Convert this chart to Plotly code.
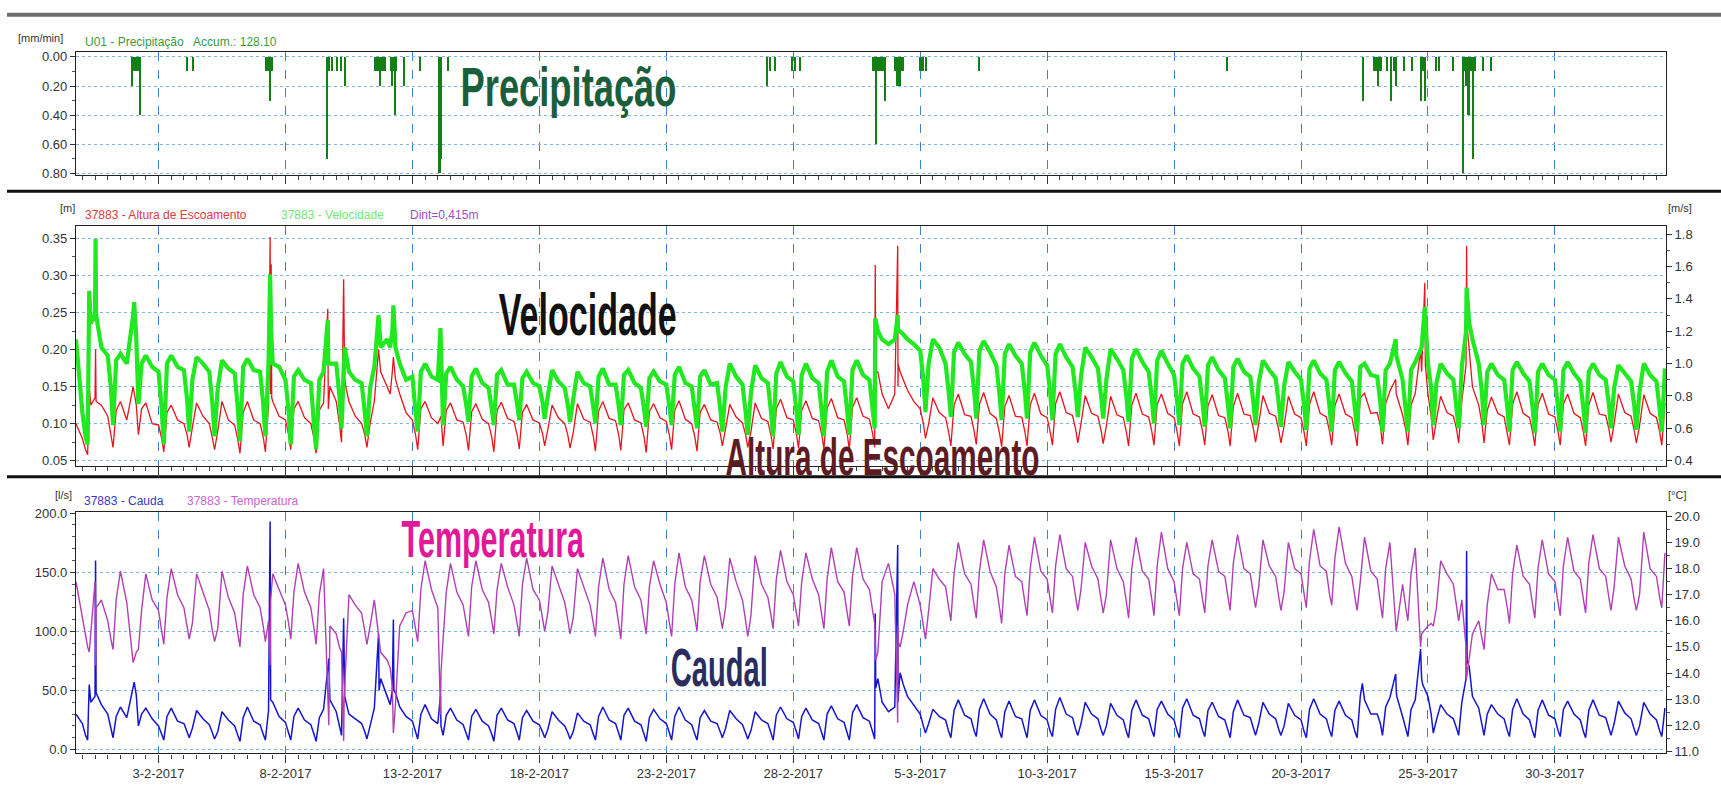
import pandas as pd
import plotly.graph_objects as go

# ---------------- time base ----------------
x_start = "2017-01-30 18:00"
x_end = "2017-04-03 09:00"
sample_hours = [0, 3, 5, 8, 12, 18]

# ---------------- precipitation (mm/min) ----------------
precip_time = [
    "2017-02-01 23:00", "2017-02-02 00:00", "2017-02-02 01:00", "2017-02-02 02:00", "2017-02-02 03:00",
    "2017-02-02 04:00", "2017-02-02 05:00", "2017-02-02 06:30", "2017-02-04 02:40", "2017-02-04 09:00",
    "2017-02-07 06:00", "2017-02-07 07:00", "2017-02-07 08:00", "2017-02-07 09:00", "2017-02-07 10:00",
    "2017-02-07 11:00", "2017-02-09 15:00", "2017-02-09 16:00", "2017-02-09 17:00", "2017-02-09 20:00",
    "2017-02-10 00:30", "2017-02-10 04:20", "2017-02-10 08:30", "2017-02-11 13:00", "2017-02-11 14:00",
    "2017-02-11 15:00", "2017-02-11 16:00", "2017-02-11 17:30", "2017-02-11 18:00", "2017-02-11 19:00",
    "2017-02-11 20:00", "2017-02-11 21:00", "2017-02-11 22:30", "2017-02-12 03:30", "2017-02-12 04:30",
    "2017-02-12 05:30", "2017-02-12 06:30", "2017-02-12 07:40", "2017-02-12 08:30", "2017-02-12 16:00",
    "2017-02-13 07:30", "2017-02-14 01:00", "2017-02-14 02:00", "2017-02-14 03:00", "2017-02-14 10:00",
    "2017-02-26 23:20", "2017-02-27 02:20", "2017-02-27 07:00", "2017-02-27 23:00", "2017-02-28 02:00",
    "2017-02-28 07:00", "2017-03-03 04:00", "2017-03-03 05:00", "2017-03-03 06:00", "2017-03-03 07:00",
    "2017-03-03 08:00", "2017-03-03 09:00", "2017-03-03 10:00", "2017-03-03 11:00", "2017-03-03 13:00",
    "2017-03-03 15:00", "2017-03-04 00:00", "2017-03-04 01:00", "2017-03-04 02:00", "2017-03-04 03:00",
    "2017-03-04 04:00", "2017-03-04 05:00", "2017-03-04 06:00", "2017-03-04 07:00", "2017-03-04 08:00",
    "2017-03-05 00:00", "2017-03-05 01:00", "2017-03-05 02:00", "2017-03-05 03:00", "2017-03-05 06:00",
    "2017-03-07 07:30", "2017-03-17 02:30", "2017-03-22 10:20", "2017-03-22 21:00", "2017-03-22 22:00",
    "2017-03-22 23:00", "2017-03-23 00:00", "2017-03-23 01:00", "2017-03-23 02:00", "2017-03-23 03:00",
    "2017-03-23 04:00", "2017-03-23 09:50", "2017-03-23 13:00", "2017-03-23 16:00", "2017-03-23 17:45",
    "2017-03-24 01:30", "2017-03-24 09:20", "2017-03-24 17:30", "2017-03-24 18:30", "2017-03-24 19:30",
    "2017-03-24 21:00", "2017-03-25 07:30", "2017-03-25 10:30", "2017-03-25 23:20", "2017-03-26 09:00",
    "2017-03-26 10:00", "2017-03-26 11:00", "2017-03-26 12:00", "2017-03-26 13:40", "2017-03-26 14:20",
    "2017-03-26 15:00", "2017-03-26 16:00", "2017-03-26 17:00", "2017-03-26 18:15", "2017-03-26 19:00",
    "2017-03-26 20:00", "2017-03-26 21:00", "2017-03-27 03:50", "2017-03-27 11:30",
]
precip_mm = [
    0.2, 0.1, 0.1, 0.1, 0.1, 0.1, 0.1, 0.4, 0.1, 0.1,
    0.1, 0.1, 0.1, 0.1, 0.3, 0.1, 0.7, 0.1, 0.1, 0.1,
    0.1, 0.1, 0.2, 0.1, 0.1, 0.1, 0.1, 0.2, 0.1, 0.1,
    0.1, 0.1, 0.1, 0.1, 0.2, 0.1, 0.1, 0.4, 0.1, 0.2,
    0.1, 0.8, 0.8, 0.7, 0.1, 0.2, 0.1, 0.1, 0.1, 0.1,
    0.1, 0.1, 0.1, 0.6, 0.1, 0.1, 0.1, 0.1, 0.1, 0.1,
    0.3, 0.1, 0.1, 0.2, 0.2, 0.2, 0.2, 0.1, 0.1, 0.1,
    0.1, 0.1, 0.1, 0.1, 0.1, 0.1, 0.1, 0.3, 0.1, 0.1,
    0.1, 0.1, 0.2, 0.1, 0.1, 0.1, 0.1, 0.3, 0.1, 0.2,
    0.1, 0.1, 0.3, 0.1, 0.1, 0.3, 0.1, 0.1, 0.1, 0.8,
    0.1, 0.1, 0.2, 0.4, 0.1, 0.4, 0.1, 0.1, 0.7, 0.1,
    0.1, 0.1, 0.1, 0.1,
]

# ---------------- Altura de Escoamento (m), samples at sample_hours ----------------
altura_m = [
    0.100,
    0.080, 0.065, 0.058, 0.125, 0.135, 0.125,  # 31-1
    0.110, 0.088, 0.068, 0.118, 0.130, 0.105,  # 1-2
    0.150, 0.125, 0.085, 0.120, 0.128, 0.100,
    0.098, 0.080, 0.062, 0.115, 0.125, 0.105,
    0.100, 0.085, 0.068, 0.095, 0.128, 0.110,
    0.100, 0.080, 0.065, 0.090, 0.130, 0.105,
    0.098, 0.078, 0.060, 0.115, 0.130, 0.105,
    0.100, 0.082, 0.062, 0.125, 0.130, 0.110,
    0.105, 0.085, 0.065, 0.120, 0.130, 0.108,
    0.100, 0.080, 0.060, 0.118, 0.128, 0.150,
    0.130, 0.100, 0.075, 0.160, 0.130, 0.110,  # 10-2
    0.100, 0.085, 0.068, 0.100, 0.130, 0.170,
    0.150, 0.140, 0.170, 0.160, 0.140, 0.115,
    0.105, 0.085, 0.065, 0.120, 0.130, 0.108,
    0.100, 0.110, 0.070, 0.118, 0.128, 0.105,
    0.102, 0.084, 0.064, 0.116, 0.127, 0.106,
    0.100, 0.082, 0.062, 0.118, 0.129, 0.107,
    0.103, 0.085, 0.066, 0.115, 0.126, 0.105,
    0.101, 0.087, 0.070, 0.092, 0.125, 0.108,
    0.100, 0.084, 0.067, 0.088, 0.127, 0.106,
    0.102, 0.083, 0.063, 0.117, 0.130, 0.107,  # 20-2
    0.104, 0.085, 0.064, 0.119, 0.128, 0.105,
    0.101, 0.082, 0.061, 0.116, 0.127, 0.108,
    0.103, 0.084, 0.065, 0.118, 0.131, 0.106,
    0.100, 0.082, 0.063, 0.115, 0.126, 0.105,
    0.102, 0.087, 0.070, 0.093, 0.126, 0.109,
    0.101, 0.085, 0.068, 0.089, 0.128, 0.107,
    0.103, 0.084, 0.066, 0.120, 0.133, 0.108,
    0.105, 0.086, 0.067, 0.118, 0.131, 0.107,  # 28-2
    0.104, 0.085, 0.066, 0.121, 0.134, 0.108,  # 1-3
    0.105, 0.086, 0.065, 0.122, 0.135, 0.110,
    0.106, 0.087, 0.068, 0.170, 0.140, 0.120,
    0.140, 0.150, 0.170, 0.160, 0.145, 0.130,
    0.120, 0.100, 0.080, 0.100, 0.135, 0.115,
    0.108, 0.088, 0.070, 0.125, 0.140, 0.112,
    0.110, 0.090, 0.072, 0.126, 0.142, 0.114,
    0.107, 0.087, 0.069, 0.123, 0.138, 0.110,
    0.109, 0.089, 0.070, 0.125, 0.141, 0.113,
    0.108, 0.088, 0.071, 0.127, 0.143, 0.115,  # 10-3
    0.111, 0.092, 0.074, 0.100, 0.138, 0.114,
    0.110, 0.091, 0.073, 0.097, 0.137, 0.112,
    0.108, 0.088, 0.070, 0.125, 0.141, 0.113,
    0.109, 0.089, 0.071, 0.126, 0.140, 0.114,
    0.108, 0.088, 0.070, 0.127, 0.143, 0.113,
    0.109, 0.089, 0.071, 0.124, 0.139, 0.111,
    0.108, 0.089, 0.070, 0.123, 0.141, 0.113,
    0.111, 0.093, 0.075, 0.100, 0.138, 0.114,
    0.110, 0.091, 0.074, 0.097, 0.137, 0.113,
    0.108, 0.088, 0.070, 0.126, 0.143, 0.114,  # 20-3
    0.109, 0.089, 0.071, 0.124, 0.140, 0.113,
    0.108, 0.088, 0.070, 0.135, 0.141, 0.114,
    0.115, 0.097, 0.072, 0.127, 0.144, 0.140,
    0.112, 0.092, 0.071, 0.125, 0.141, 0.170,
    0.140, 0.110, 0.078, 0.105, 0.137, 0.115,
    0.110, 0.093, 0.074, 0.130, 0.180, 0.150,
    0.125, 0.100, 0.074, 0.118, 0.136, 0.114,
    0.109, 0.089, 0.071, 0.126, 0.143, 0.114,
    0.108, 0.088, 0.070, 0.125, 0.141, 0.113,
    0.109, 0.089, 0.071, 0.126, 0.140, 0.114,  # 30-3
    0.108, 0.088, 0.070, 0.125, 0.142, 0.113,
    0.111, 0.093, 0.075, 0.100, 0.140, 0.115,  # 1-4
    0.110, 0.091, 0.074, 0.097, 0.139, 0.114,
    0.108, 0.089, 0.071, 0.128,  # 3-4
]
altura_evt_time = [
    "2017-01-31 06:30", "2017-01-31 12:30", "2017-01-31 13:00", "2017-02-07 09:30", "2017-02-07 10:00",
    "2017-02-07 10:30", "2017-02-07 11:00", "2017-02-09 16:00", "2017-02-09 16:30", "2017-02-10 07:00",
    "2017-02-10 07:30", "2017-02-10 09:00", "2017-02-11 16:00", "2017-02-12 06:00", "2017-03-03 05:30",
    "2017-03-03 06:00", "2017-03-04 02:45", "2017-03-04 03:15", "2017-03-23 17:30", "2017-03-24 17:00",
    "2017-03-24 21:00", "2017-03-24 21:30", "2017-03-26 12:30", "2017-03-26 13:00", "2017-03-26 15:00",
]
altura_evt_m = [
    0.150, 0.200, 0.130, 0.352, 0.140,
    0.315, 0.135, 0.255, 0.120, 0.295,
    0.230, 0.150, 0.200, 0.190, 0.314,
    0.170, 0.340, 0.180, 0.160, 0.200,
    0.290, 0.180, 0.340, 0.230, 0.200,
]

# ---------------- Velocidade (m/s) ----------------
velocidade_ms = [
    1.15,
    0.70, 0.55, 0.50, 1.25, 1.30, 1.10,  # 31-1
    1.05, 0.85, 0.62, 1.02, 1.06, 1.00,  # 1-2
    1.30, 1.15, 0.75, 1.00, 1.05, 0.98,
    0.95, 0.72, 0.50, 1.00, 1.05, 0.98,
    0.96, 0.78, 0.58, 0.90, 1.04, 1.00,
    0.95, 0.75, 0.55, 0.85, 1.02, 0.97,
    0.94, 0.72, 0.52, 0.98, 1.03, 0.96,
    0.95, 0.75, 0.55, 1.00, 1.00, 0.98,
    0.90, 0.70, 0.50, 0.92, 0.96, 0.90,
    0.88, 0.62, 0.47, 0.90, 0.95, 1.00,
    1.00, 0.80, 0.60, 1.10, 0.95, 0.90,  # 10-2
    0.88, 0.70, 0.55, 0.85, 0.98, 1.10,
    1.15, 1.10, 1.20, 1.10, 1.00, 0.90,
    0.92, 0.70, 0.58, 0.95, 1.00, 0.92,
    0.90, 1.05, 0.62, 0.94, 0.98, 0.90,
    0.86, 0.74, 0.64, 0.92, 0.97, 0.88,
    0.85, 0.72, 0.62, 0.93, 0.96, 0.87,
    0.87, 0.75, 0.65, 0.91, 0.95, 0.88,
    0.86, 0.76, 0.66, 0.80, 0.96, 0.89,
    0.85, 0.74, 0.64, 0.78, 0.95, 0.88,
    0.86, 0.73, 0.63, 0.92, 0.97, 0.87,  # 20-2
    0.87, 0.74, 0.62, 0.93, 0.96, 0.88,
    0.85, 0.72, 0.61, 0.91, 0.95, 0.89,
    0.87, 0.73, 0.62, 0.93, 0.98, 0.88,
    0.86, 0.71, 0.60, 0.92, 0.96, 0.87,
    0.88, 0.72, 0.58, 0.85, 1.00, 0.92,
    0.87, 0.70, 0.56, 0.82, 0.99, 0.91,
    0.88, 0.70, 0.55, 0.94, 1.01, 0.92,
    0.89, 0.71, 0.56, 0.93, 1.00, 0.91,  # 28-2
    0.88, 0.70, 0.55, 0.95, 1.02, 0.92,  # 1-3
    0.89, 0.71, 0.56, 0.96, 1.02, 0.93,
    0.90, 0.72, 0.60, 1.20, 1.15, 1.12,
    1.15, 1.20, 1.20, 1.18, 1.15, 1.12,
    1.08, 0.90, 0.70, 1.00, 1.15, 1.10,
    1.00, 0.82, 0.67, 1.07, 1.13, 1.06,
    1.01, 0.83, 0.66, 1.08, 1.14, 1.07,
    0.99, 0.81, 0.65, 1.06, 1.12, 1.05,
    1.00, 0.82, 0.66, 1.07, 1.13, 1.05,
    0.99, 0.81, 0.65, 1.06, 1.12, 1.04,  # 10-3
    0.98, 0.82, 0.67, 0.92, 1.10, 1.04,
    0.97, 0.80, 0.66, 0.90, 1.09, 1.03,
    0.96, 0.79, 0.64, 1.03, 1.09, 1.01,
    0.95, 0.78, 0.63, 1.02, 1.08, 1.00,
    0.93, 0.76, 0.62, 1.00, 1.05, 0.97,
    0.92, 0.75, 0.61, 0.99, 1.04, 0.96,
    0.91, 0.74, 0.60, 0.98, 1.03, 0.95,
    0.92, 0.76, 0.62, 0.88, 1.02, 0.96,
    0.91, 0.75, 0.61, 0.86, 1.01, 0.95,
    0.90, 0.73, 0.59, 0.97, 1.02, 0.94,  # 20-3
    0.90, 0.73, 0.58, 0.96, 1.01, 0.94,
    0.89, 0.72, 0.58, 0.98, 1.00, 0.93,
    0.92, 0.76, 0.58, 0.96, 1.00, 1.05,
    0.90, 0.73, 0.58, 0.96, 1.01, 1.10,
    1.00, 0.85, 0.62, 0.88, 1.00, 0.94,
    0.90, 0.74, 0.60, 0.98, 1.20, 1.15,
    1.00, 0.82, 0.62, 0.95, 1.00, 0.93,
    0.90, 0.73, 0.58, 0.96, 1.01, 0.94,
    0.89, 0.72, 0.57, 0.95, 1.00, 0.93,
    0.90, 0.73, 0.58, 0.96, 1.01, 0.94,  # 30-3
    0.89, 0.72, 0.57, 0.95, 1.00, 0.93,
    0.90, 0.75, 0.60, 0.85, 0.99, 0.94,  # 1-4
    0.89, 0.74, 0.59, 0.83, 1.00, 0.93,
    0.89, 0.72, 0.58, 0.97,  # 3-4
]
velocidade_evt_time = [
    "2017-01-31 06:30", "2017-01-31 12:30", "2017-01-31 13:00", "2017-02-02 01:00", "2017-02-07 09:30",
    "2017-02-07 10:30", "2017-02-09 16:00", "2017-02-09 16:30", "2017-02-11 16:00", "2017-02-12 06:00",
    "2017-02-14 02:30", "2017-03-03 05:30", "2017-03-04 02:45", "2017-03-23 17:30", "2017-03-24 21:00",
    "2017-03-26 12:30", "2017-03-26 15:00",
]
velocidade_evt_ms = [
    1.45, 1.77, 1.30, 1.38, 1.55,
    1.20, 1.27, 1.00, 1.30, 1.36,
    1.22, 1.28, 1.30, 1.15, 1.35,
    1.47, 1.25,
]

# ---------------- Caudal (l/s) ----------------
caudal_ls = [
    30,
    22, 12, 8, 40, 45, 38,  # 31-1
    30, 18, 10, 28, 36, 27,  # 1-2
    52, 46, 20, 30, 35, 26,
    20, 13, 8, 28, 35, 24,
    22, 15, 10, 18, 33, 26,
    21, 14, 9, 15, 32, 25,
    20, 12, 7, 27, 36, 24,
    21, 13, 8, 33, 40, 28,
    23, 14, 8, 28, 35, 25,
    21, 13, 7, 27, 34, 42,
    32, 20, 12, 45, 30, 26,  # 10-2
    22, 15, 9, 20, 35, 60,
    45, 38, 50, 48, 36, 28,
    24, 15, 9, 30, 38, 26,
    22, 20, 12, 29, 35, 25,
    21, 13, 8, 28, 34, 24,
    20, 13, 7, 29, 35, 25,
    22, 14, 8, 27, 33, 24,
    21, 15, 10, 17, 32, 25,
    20, 14, 9, 15, 31, 24,
    21, 13, 8, 28, 36, 25,  # 20-2
    22, 14, 8, 29, 35, 24,
    21, 13, 7, 27, 34, 26,
    22, 14, 8, 28, 36, 25,
    21, 13, 8, 27, 33, 24,
    22, 15, 10, 18, 33, 26,
    21, 14, 9, 16, 32, 25,
    22, 14, 8, 29, 36, 26,
    23, 15, 9, 28, 35, 25,  # 28-2
    22, 14, 8, 30, 37, 26,  # 1-3
    23, 14, 8, 31, 38, 27,
    24, 15, 9, 60, 40, 32,
    36, 40, 65, 55, 45, 38,
    30, 20, 14, 22, 34, 28,
    25, 15, 10, 33, 42, 29,
    26, 16, 11, 34, 43, 30,
    25, 15, 10, 32, 41, 28,
    26, 16, 10, 33, 42, 29,
    25, 15, 11, 34, 44, 30,  # 10-3
    27, 17, 12, 22, 40, 30,
    26, 17, 12, 20, 39, 29,
    25, 15, 10, 33, 42, 29,
    26, 16, 11, 34, 41, 30,
    25, 15, 10, 35, 43, 29,
    26, 16, 11, 33, 40, 28,
    25, 16, 10, 32, 42, 29,
    27, 18, 12, 22, 40, 30,
    26, 17, 12, 20, 39, 29,
    25, 15, 10, 34, 43, 30,  # 20-3
    26, 16, 11, 33, 41, 29,
    25, 15, 10, 45, 42, 30,
    30, 22, 12, 36, 44, 50,
    28, 18, 11, 34, 42, 60,
    45, 30, 14, 25, 38, 30,
    26, 18, 12, 40, 60, 45,
    35, 22, 12, 30, 38, 30,
    26, 16, 11, 34, 43, 30,
    25, 15, 10, 33, 42, 29,
    26, 16, 11, 34, 41, 30,  # 30-3
    25, 15, 10, 33, 42, 29,
    27, 18, 12, 22, 41, 31,  # 1-4
    26, 17, 12, 20, 40, 30,
    25, 16, 11, 35,  # 3-4
]
caudal_evt_time = [
    "2017-01-31 06:30", "2017-01-31 12:30", "2017-01-31 13:00", "2017-02-02 01:00", "2017-02-07 09:30",
    "2017-02-07 10:00", "2017-02-09 17:00", "2017-02-09 17:30", "2017-02-10 07:00", "2017-02-10 07:30",
    "2017-02-11 16:00", "2017-02-11 16:30", "2017-02-12 06:00", "2017-02-12 06:30", "2017-02-14 02:30",
    "2017-03-03 05:30", "2017-03-03 06:00", "2017-03-04 02:45", "2017-03-04 03:15", "2017-03-22 10:00",
    "2017-03-23 17:30", "2017-03-23 18:30", "2017-03-24 17:00", "2017-03-24 19:00", "2017-03-26 12:30",
    "2017-03-26 13:00", "2017-03-26 15:00",
]
caudal_evt_ls = [
    55, 160, 48, 57, 193,
    42, 77, 45, 111, 52,
    98, 50, 110, 50, 45,
    115, 52, 173, 45, 56,
    64, 45, 85, 55, 168,
    75, 70,
]

# ---------------- Temperatura (°C) ----------------
temperatura_c = [
    17.5,
    16.2, 15.4, 15.0, 15.5, 17.5, 16.8,  # 31-1
    16.0, 15.3, 14.9, 16.8, 17.9, 16.7,  # 1-2
    14.4, 14.8, 14.9, 16.4, 17.8, 16.8,
    16.4, 15.6, 15.1, 16.9, 18.0, 17.0,
    16.5, 15.8, 15.3, 15.9, 17.8, 17.1,
    16.4, 15.6, 15.2, 15.7, 17.9, 16.9,
    16.3, 15.5, 15.0, 17.0, 18.1, 17.0,
    16.5, 15.8, 15.2, 16.0, 17.8, 17.2,
    16.6, 15.9, 15.3, 17.1, 18.2, 17.1,
    16.5, 15.7, 15.1, 17.0, 18.0, 15.8,
    15.5, 15.0, 14.8, 13.5, 17.0, 16.6,  # 10-2
    16.3, 15.6, 15.1, 15.8, 16.8, 14.8,
    14.5, 14.2, 13.5, 12.8, 15.8, 16.3,
    16.4, 15.7, 15.2, 17.2, 18.3, 17.2,
    16.5, 14.0, 15.3, 17.1, 18.2, 17.1,
    16.6, 15.9, 15.4, 17.3, 18.3, 17.2,
    16.7, 16.0, 15.5, 17.2, 18.2, 17.3,
    16.6, 15.9, 15.4, 17.4, 18.4, 17.2,
    16.8, 16.1, 15.6, 16.3, 18.1, 17.4,
    16.7, 16.0, 15.5, 16.1, 18.0, 17.3,
    16.6, 15.9, 15.4, 17.3, 18.4, 17.2,  # 20-2
    16.7, 15.9, 15.3, 17.4, 18.5, 17.3,
    16.8, 16.0, 15.5, 17.3, 18.3, 17.4,
    16.7, 15.9, 15.4, 17.4, 18.6, 17.3,
    16.8, 16.1, 15.6, 17.5, 18.5, 17.4,
    16.9, 16.2, 15.7, 16.5, 18.4, 17.5,
    16.8, 16.0, 15.4, 16.2, 18.5, 17.4,
    16.9, 16.2, 15.7, 17.6, 18.7, 17.5,
    17.0, 16.3, 15.8, 17.5, 18.6, 17.6,  # 28-2
    17.0, 16.2, 15.7, 17.6, 18.8, 17.5,  # 1-3
    17.1, 16.3, 15.8, 17.7, 18.8, 17.6,
    17.2, 16.4, 15.9, 14.8, 17.5, 18.2,
    17.0, 15.8, 15.0, 15.6, 16.6, 17.5,
    16.6, 15.8, 15.3, 16.4, 18.0, 17.6,
    17.3, 16.5, 16.0, 17.8, 19.0, 17.8,
    17.4, 16.6, 16.1, 17.9, 19.1, 17.9,
    17.3, 16.5, 15.9, 17.8, 18.9, 17.7,
    17.5, 16.7, 16.2, 18.0, 19.2, 17.9,
    17.6, 16.8, 16.3, 18.1, 19.3, 18.0,  # 10-3
    17.7, 16.9, 16.4, 17.2, 19.0, 18.1,
    17.6, 16.8, 16.3, 17.0, 19.1, 18.0,
    17.5, 16.7, 16.1, 18.0, 19.2, 17.9,
    17.6, 16.8, 16.2, 18.1, 19.4, 18.0,
    17.5, 16.7, 16.2, 18.0, 19.0, 17.8,
    17.6, 16.8, 16.3, 18.1, 19.1, 17.9,
    17.7, 16.9, 16.4, 18.2, 19.3, 18.0,
    17.8, 17.0, 16.5, 17.3, 19.1, 18.1,
    17.7, 16.9, 16.4, 17.1, 19.0, 18.0,
    17.8, 17.0, 16.5, 18.3, 19.5, 18.1,  # 20-3
    17.9, 17.0, 16.6, 18.4, 19.6, 18.2,
    17.7, 16.9, 16.4, 17.5, 19.2, 17.9,
    17.6, 16.7, 16.1, 18.0, 19.0, 15.6,
    17.4, 16.5, 16.0, 17.8, 18.8, 15.5,
    15.8, 15.9, 15.8, 16.5, 18.3, 17.8,
    17.4, 16.6, 16.0, 16.8, 15.0, 15.5,
    16.0, 15.4, 14.9, 16.6, 17.8, 17.2,
    17.2, 16.5, 15.9, 17.8, 18.9, 17.7,
    17.4, 16.6, 16.1, 18.0, 19.1, 17.8,
    17.5, 16.7, 16.2, 18.1, 19.2, 17.9,  # 30-3
    17.6, 16.8, 16.3, 18.2, 19.3, 18.0,
    17.7, 16.9, 16.4, 17.3, 19.2, 18.1,  # 1-4
    17.6, 16.8, 16.4, 17.0, 19.4, 18.0,
    17.7, 16.9, 16.5, 18.6,  # 3-4
]
temperatura_evt_time = [
    "2017-01-31 06:30", "2017-01-31 12:30", "2017-01-31 13:00", "2017-02-07 09:30", "2017-02-07 10:00",
    "2017-02-09 17:00", "2017-02-09 17:30", "2017-02-10 07:00", "2017-02-10 07:30", "2017-02-12 06:00",
    "2017-02-14 02:30", "2017-03-03 06:00", "2017-03-04 02:45", "2017-03-04 03:15", "2017-03-24 17:00",
    "2017-03-26 12:30",
]
temperatura_evt_c = [
    14.8, 14.3, 16.5, 14.3, 16.8,
    12.0, 15.0, 11.4, 13.0, 11.7,
    12.4, 14.5, 12.1, 15.2, 15.0,
    13.8,
]

# ---------------- build time grid ----------------
t0, t1 = pd.Timestamp(x_start), pd.Timestamp(x_end)
grid = [d + pd.Timedelta(hours=h)
        for d in pd.date_range(t0.normalize(), t1.normalize(), freq="D")
        for h in sample_hours]
grid = [t for t in grid if t0 <= t <= t1]


def series(base, evt_t, evt_v):
    n = min(len(grid), len(base))
    pts = list(zip(grid[:n], base[:n])) + [(pd.Timestamp(t), v) for t, v in zip(evt_t, evt_v)]
    pts.sort(key=lambda p: p[0])
    return [p[0] for p in pts], [p[1] for p in pts]


h_t, h_v = series(altura_m, altura_evt_time, altura_evt_m)
v_t, v_v = series(velocidade_ms, velocidade_evt_time, velocidade_evt_ms)
q_t, q_v = series(caudal_ls, caudal_evt_time, caudal_evt_ls)
T_t, T_v = series(temperatura_c, temperatura_evt_time, temperatura_evt_c)

# ---------------- figure ----------------
W, H = 1721, 789


def px(x):
    return x / W


def py(y):
    return 1 - y / H


fig = go.Figure()
fig.add_trace(go.Bar(x=pd.to_datetime(precip_time), y=precip_mm, width=3600000 * 1.25,
                     marker=dict(color="#157f15", line=dict(width=0)), xaxis="x", yaxis="y"))
fig.add_trace(go.Scatter(x=v_t, y=v_v, mode="lines", line=dict(color="#22e822", width=4.2),
                         xaxis="x2", yaxis="y3"))
fig.add_trace(go.Scatter(x=h_t, y=h_v, mode="lines", line=dict(color="#e6141c", width=1.3),
                         xaxis="x2", yaxis="y2"))
fig.add_trace(go.Scatter(x=T_t, y=T_v, mode="lines", line=dict(color="#b13fb4", width=1.4),
                         xaxis="x3", yaxis="y5"))
fig.add_trace(go.Scatter(x=q_t, y=q_v, mode="lines", line=dict(color="#1515d0", width=1.5),
                         xaxis="x3", yaxis="y4"))

tickfont = dict(family="Liberation Sans, Arial, sans-serif", size=13, color="#333333")
xdomain = [px(76), px(1666)]


def xaxis(anchor, labels):
    return dict(
        type="date", range=[x_start, x_end], domain=xdomain, anchor=anchor,
        showgrid=True, gridcolor="#3d7fd0", griddash="dash", gridwidth=1,
        tick0="2017-02-03", dtick=5 * 86400000, ticks="outside", ticklen=8,
        tickcolor="#333333", showline=True, linecolor="#222222", linewidth=1.2,
        mirror=True, zeroline=False, showticklabels=labels, tickformat="%-d-%-m-%Y",
        tickfont=tickfont,
        minor=dict(tick0="2017-02-03", dtick=43200000, ticks="outside", ticklen=4,
                   tickcolor="#444444", showgrid=False),
    )


def yaxis(domain, rng, dtick, fmt, minor_dtick, side="left", overlay=None, anchor=None, grid=True):
    d = dict(
        range=rng, dtick=dtick, tickformat=fmt, side=side, ticks="outside", ticklen=5,
        tickcolor="#333333", tickfont=tickfont, zeroline=False,
        showgrid=grid, gridcolor="#7db4e8", griddash="dot", gridwidth=1.2,
        minor=dict(dtick=minor_dtick, ticks="outside", ticklen=3, tickcolor="#555555", showgrid=False),
    )
    if overlay:
        d.update(overlaying=overlay, anchor=anchor, showline=False)
    else:
        d.update(domain=domain, anchor=anchor, showline=True, linecolor="#222222",
                 linewidth=1.2, mirror=True)
    return d


fig.update_layout(
    width=W, height=H, margin=dict(l=0, r=0, t=0, b=0),
    paper_bgcolor="white", plot_bgcolor="white", showlegend=False, bargap=0,
    hovermode=False,
    xaxis=xaxis("y", False),
    xaxis2=xaxis("y2", False),
    xaxis3=xaxis("y4", True),
    yaxis=yaxis([py(171.7), py(46.7)], [0.8115, -0.0338], 0.2, ".2f", 0.1, anchor="x"),
    yaxis2=yaxis([py(467.3), py(223)], [0.0426, 0.3673], 0.05, ".2f", 0.025, anchor="x2"),
    yaxis3=yaxis(None, [0.366, 1.853], 0.2, ".1f", 0.1, side="right", overlay="y2",
                 anchor="x2", grid=False),
    yaxis4=yaxis([py(759), py(514)], [-3.3, 200.8], 50, ".1f", 10, anchor="x3"),
    yaxis5=yaxis(None, [10.92, 20.16], 1, ".1f", 0.5, side="right", overlay="y4",
                 anchor="x3", grid=False),
)

# separators / header line
shapes = [
    dict(type="line", xref="paper", yref="paper", x0=px(7), x1=1, y0=py(9), y1=py(9),
         line=dict(color="#6e6e6e", width=4)),
    dict(type="line", xref="paper", yref="paper", x0=px(7), x1=1, y0=py(188), y1=py(188),
         line=dict(color="#111111", width=3)),
    dict(type="line", xref="paper", yref="paper", x0=px(7), x1=1, y0=py(478), y1=py(478),
         line=dict(color="#111111", width=3)),
]
fig.update_layout(shapes=shapes)

small = "Liberation Sans, Arial, sans-serif"
bold_font = "Liberation Sans, Arial, sans-serif"


def label(text, x, y, color, size=12, anchor="left", family=small):
    fig.add_annotation(text=text, xref="paper", yref="paper", x=px(x), y=py(y),
                       xanchor=anchor, yanchor="middle", showarrow=False,
                       font=dict(family=family, size=size, color=color))


label("[mm/min]", 16, 33, "#333333", 11)
label("U01 - Precipitação   Accum.: 128.10", 83, 37, "#3a9d3a", 12)
label("[m]", 58, 205, "#333333", 11)
label("37883 - Altura de Escoamento", 83, 212, "#e23a3a", 12)
label("37883 - Velocidade", 279, 212, "#74e874", 12)
label("Dint=0,415m", 408, 212, "#9a4dc8", 12)
label("[m/s]", 1666, 205, "#333333", 11)
label("[l/s]", 53, 497, "#333333", 11)
label("37883 - Cauda", 82, 503, "#3737c8", 12)
label("37883 - Temperatura", 185, 503, "#cc66cc", 12)
label("[°C]", 1666, 497, "#333333", 11)

# big condensed captions (width squeezed in the page to mimic the condensed face)
label("<b>Precipitação</b>", 568, 82, "#1b5e3c", 56, "center", bold_font)
label("<b>Velocidade</b>", 587, 313, "#111111", 60, "center", bold_font)
label("<b>Altura de Escoamento</b>", 882, 458, "#5e1b23", 52, "center", bold_font)
label("<b>Temperatura</b>", 493, 541, "#e2189a", 52, "center", bold_font)
label("<b>Caudal</b>", 719, 672, "#2b2d5f", 53, "center", bold_font)

post_js = """
document.body.style.margin = '0';
document.body.style.padding = '0';
document.body.style.overflow = 'hidden';
var gd = document.getElementById('{plot_id}');
var targetW = {'Precipitação': 216, 'Velocidade': 178, 'Altura de Escoamento': 314,
               'Temperatura': 183, 'Caudal': 97};
function squeezeCaptions() {
  var nodes = gd.querySelectorAll('text.annotation-text');
  for (var i = 0; i < nodes.length; i++) {
    var t = nodes[i];
    var key = t.textContent;
    if (!(key in targetW)) continue;
    var bb = t.getBBox();
    if (!bb.width) continue;
    var sx = targetW[key] / bb.width;
    var cx = bb.x + bb.width / 2;
    t.setAttribute('transform', 'translate(' + cx + ',0) scale(' + sx + ',1) translate(' + (-cx) + ',0)');
  }
}
squeezeCaptions();
if (gd.on) { gd.on('plotly_afterplot', squeezeCaptions); }
"""

fig.write_html("out.html", config={"displayModeBar": False}, post_script=post_js)
